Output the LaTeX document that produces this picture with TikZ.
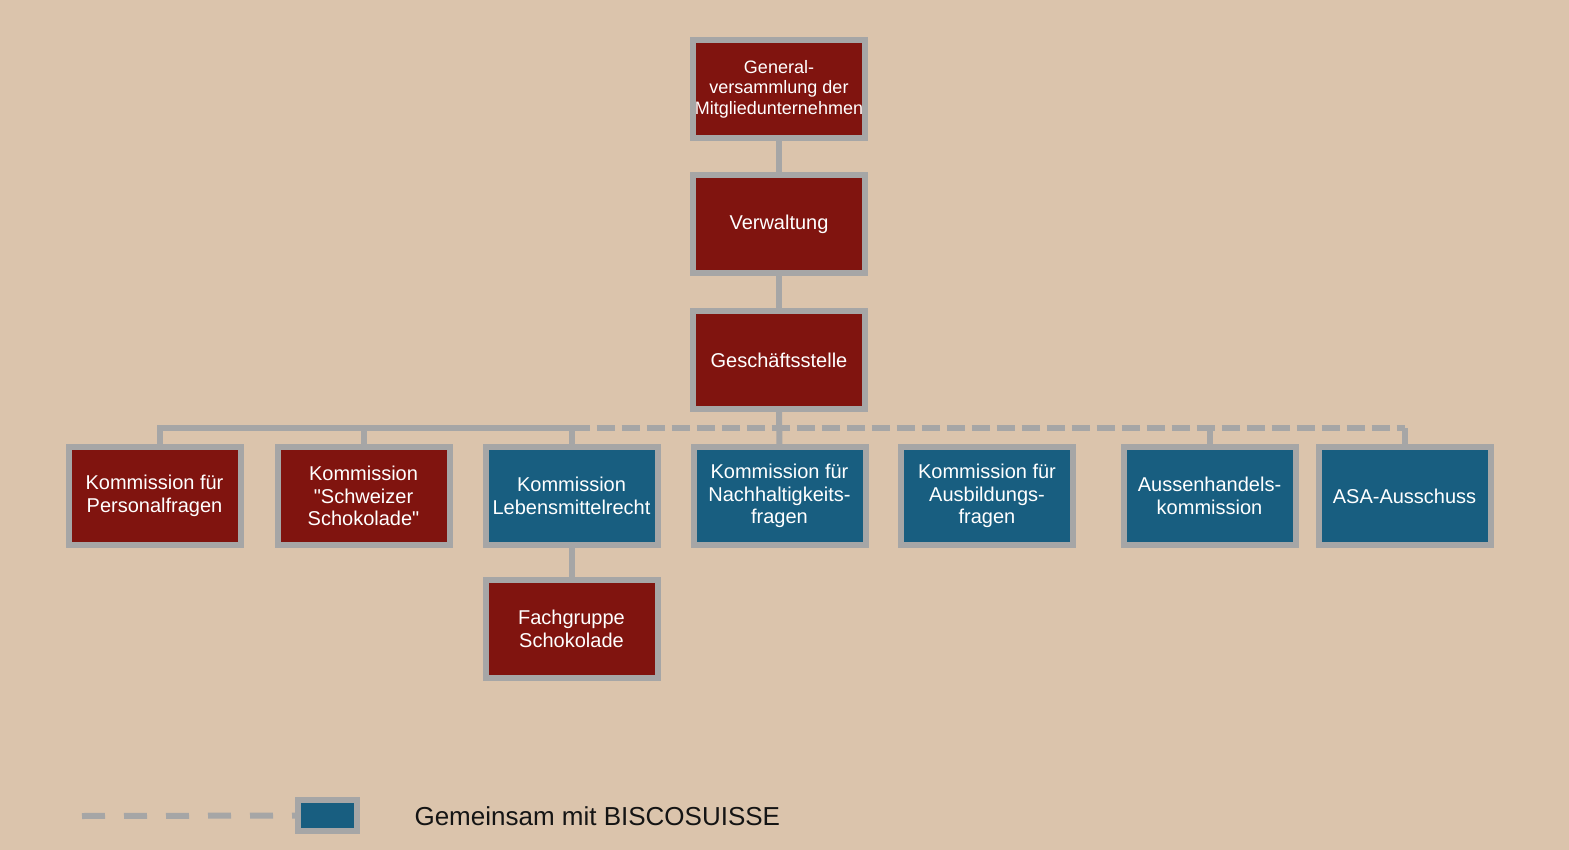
\documentclass[tikz,border=0pt]{standalone}
\usepackage{fontspec}
\setmainfont{Liberation Sans}
\definecolor{bgbeige}{RGB}{219,196,172}
\definecolor{boxred}{RGB}{128,20,15}
\definecolor{boxblue}{RGB}{24,94,128}
\definecolor{linegray}{RGB}{166,166,166}
\definecolor{keyblack}{RGB}{20,20,20}

\begin{document}
\begin{tikzpicture}[x=1pt,y=-1pt,
  box/.style={draw=linegray,line width=6pt,minimum width=172pt,minimum height=98pt,
    inner sep=0pt,align=center,text=white,font=\fontsize{20}{22.5}\selectfont},
  redbox/.style={box,fill=boxred},
  bluebox/.style={box,fill=boxblue},
  link/.style={draw=linegray,line width=6pt},
  joint/.style={link,dash pattern=on 18pt off 7pt}]
\fill[bgbeige] (0,0) rectangle (1569,850);
\useasboundingbox (0,0) rectangle (1569,850);

\node[redbox,font=\fontsize{18}{20.5}\selectfont] (gv) at (779,89) {General-\\versammlung der\\Mitgliedunternehmen};
\node[redbox] (vw) at (779,224) {Verwaltung};
\node[redbox] (gs) at (779,360) {Geschäftsstelle};

\node[redbox] (k1) at (154.5,496) {Kommission für\\Personalfragen};
\node[redbox] (k2) at (363.5,496) {Kommission\\\textquotedbl Schweizer\\Schokolade\textquotedbl};
\node[bluebox] (k3) at (571.5,496) {Kommission\\Lebensmittelrecht};
\node[bluebox] (k4) at (779.5,496) {Kommission für\\Nachhaltigkeits-\\fragen};
\node[bluebox] (k5) at (987,496) {Kommission für\\Ausbildungs-\\fragen};
\node[bluebox] (k6) at (1209.5,496) {Aussenhandels-\\kommission};
\node[bluebox] (k7) at (1404.5,496) {ASA-Ausschuss};
\node[redbox] (fg) at (571.5,629) {Fachgruppe\\Schokolade};

\coordinate (bus) at (779,428);
\draw[link] (gv) -- (vw);
\draw[link] (vw) -- (gs);
\draw[link] (gs) -- (k4);
\draw[link] ([xshift=5pt]k1.north) -- ([xshift=5pt]k1.north |- bus) -- (k3.north |- bus) -- (k3.north);
\draw[link] (k2.north) -- (k2.north |- bus);
\draw[joint] (k3.north |- bus) -- (k7.north |- bus);
\draw[link] (k6.north |- bus) -- (k6.north);
\draw[link] (k7.north |- bus) -- (k7.north);
\draw[link] (k3) -- (fg);

\coordinate (keystart) at (82,816);
\node[bluebox,minimum width=59pt,minimum height=31pt] (key) at (327.5,815.5) {};
\draw[link,dash pattern=on 23pt off 19pt] (keystart) -- (key.west);
\node[anchor=west,text=keyblack,font=\fontsize{26}{29}\selectfont] (keytext) at (411,816) {Gemeinsam mit BISCOSUISSE};
\end{tikzpicture}
\end{document}
